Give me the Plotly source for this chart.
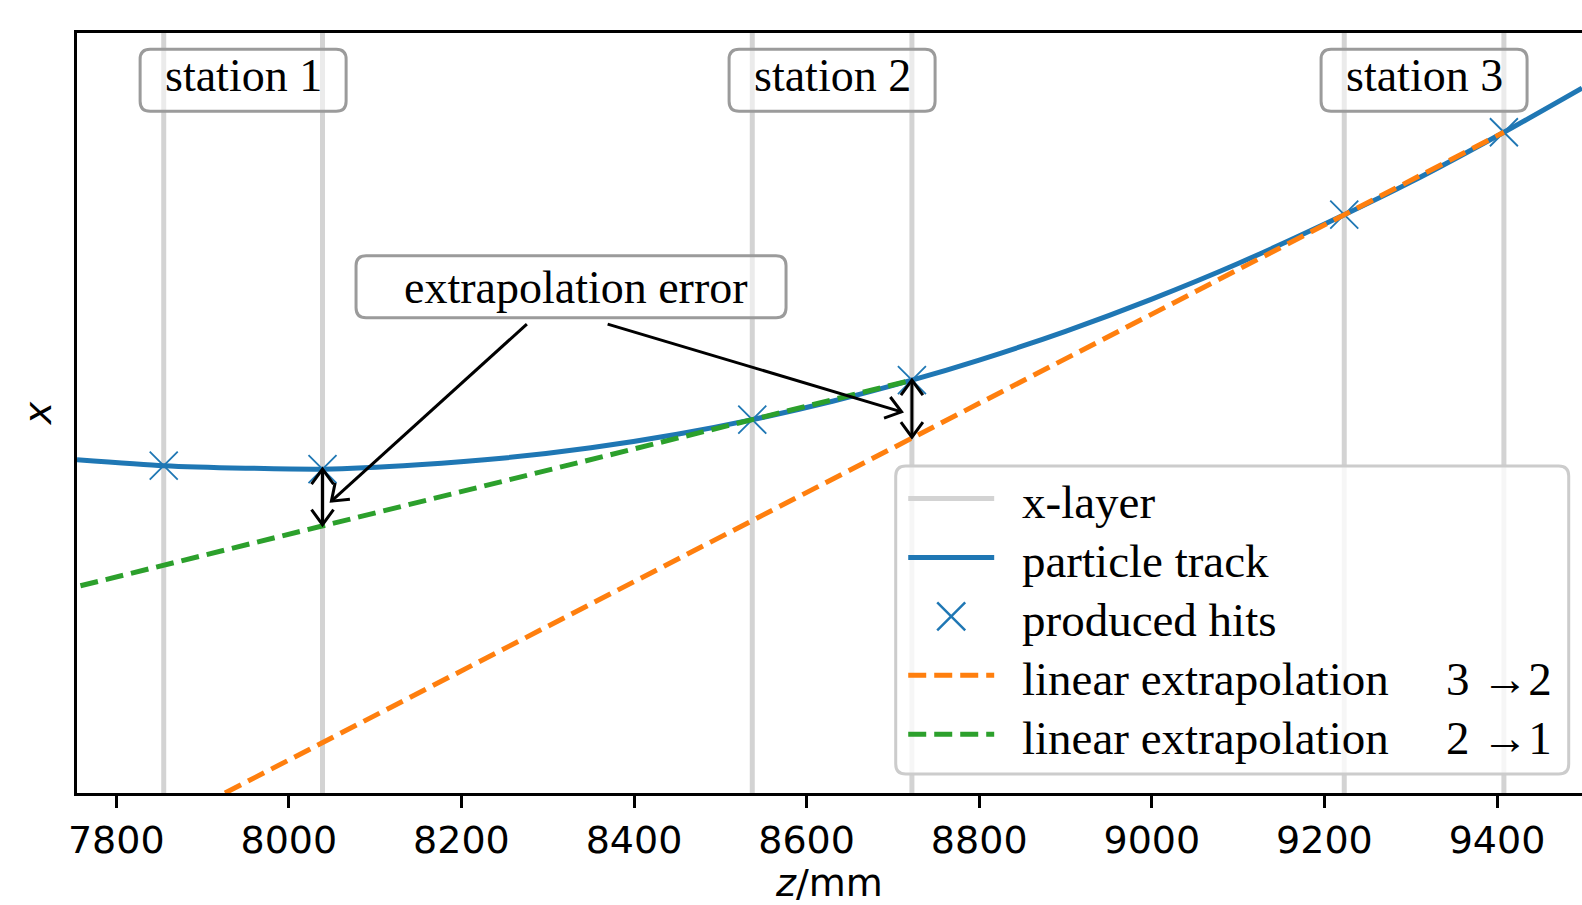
import math
import plotly.graph_objects as go

# ---------------- data ----------------
layer_z = [7855, 8039, 8537, 8722, 9223, 9408]          # x-layer positions (z/mm)

track_z = [7754.5, 7855, 7950, 8040, 8150, 8250, 8350, 8450, 8537, 8630,
           8722, 8800, 8900, 9000, 9100, 9223, 9300, 9408, 9498.5]
track_x = [333.5, 327.5, 325.0, 324.0, 328.4, 335.2, 345.4, 358.9, 373.5, 391.9,
           413.0, 433.1, 461.9, 494.1, 529.7, 578.5, 611.1, 661.0, 705.2]

hit_x = [327.5, 324.0, 373.5, 413.0, 578.5, 661.0]       # produced hits at layer_z

extrap32_z = [7926, 9408]
extrap32_x = [0.0, 661.0]
extrap21_z = [7700, 8722]
extrap21_x = [194.8, 413.0]

station_labels = ["station 1", "station 2", "station 3"]
station_label_x = 713.0

error_z = [8039, 8722]
error_top = [324.0, 413.0]
error_bottom = [268.5, 356.0]

callout_text = "extrapolation error"
callout_pos = (8327, 506.5)
callout_tips = [(8049.3, 292.0), (8710.0, 381.3)]
callout_tails = [(8275.8, 469.1), (8369.4, 469.1)]

legend_labels = ["x-layer", "particle track", "produced hits",
                 "linear extrapolation", "linear extrapolation"]
legend_suffix = ["", "", "", "3 \u21922", "2 \u21921"]

X_RANGE = [7754.5, 9498.5]
Y_RANGE = [0.0, 760.3]
x_ticks = [7800, 8000, 8200, 8400, 8600, 8800, 9000, 9200, 9400]
x_title = "<i>z</i>/mm"
y_title = "<i>x</i>"

# ---------------- styling ----------------
BLUE = "#1f77b4"
ORANGE = "#ff7f0e"
GREEN = "#2ca02c"
LAYER = "#d3d3d3"
SERIF = "Liberation Serif, Times New Roman, serif"
SANS = "DejaVu Sans, sans-serif"
W, H = 1582, 905
ML, MR, MT, MB = 76.5, 0, 32.7, 112
PW = W - ML - MR
PH = H - MT - MB
SX = PW / (X_RANGE[1] - X_RANGE[0])
SY = PH / (Y_RANGE[1] - Y_RANGE[0])
DASH = "18px,8px"


def px2paper(px, py):
    return (px - ML) / PW, (H - MB - py) / PH


fig = go.Figure()

lz, ly = [], []
for z in layer_z:
    lz += [z, z, None]
    ly += [Y_RANGE[0] - 20, Y_RANGE[1] + 20, None]
fig.add_trace(go.Scatter(x=lz, y=ly, mode="lines", name="x-layer",
                         line=dict(color=LAYER, width=5)))
fig.add_trace(go.Scatter(x=track_z, y=track_x, mode="lines", name="particle track",
                         line=dict(color=BLUE, width=5, shape="spline", smoothing=0.6)))
fig.add_trace(go.Scatter(x=layer_z, y=hit_x, mode="markers", name="produced hits",
                         marker=dict(symbol="x-thin", size=28,
                                     line=dict(color=BLUE, width=1.8), color=BLUE)))
fig.add_trace(go.Scatter(x=extrap32_z, y=extrap32_x, mode="lines",
                         name="linear extrapolation 3\u21922",
                         line=dict(color=ORANGE, width=5, dash=DASH)))
fig.add_trace(go.Scatter(x=extrap21_z, y=extrap21_x, mode="lines",
                         name="linear extrapolation 2\u21921",
                         line=dict(color=GREEN, width=5, dash=DASH)))


def rrect(w, h, r):
    a, b = w / 2, h / 2
    return (f"M{-a + r},{-b} L{a - r},{-b} Q{a},{-b} {a},{-b + r} "
            f"L{a},{b - r} Q{a},{b} {a - r},{b} L{-a + r},{b} Q{-a},{b} {-a},{b - r} "
            f"L{-a},{-b + r} Q{-a},{-b} {-a + r},{-b} Z")


shapes = []
annotations = []


def add_arrow(tip, tail, heads=("end",)):
    shapes.append(dict(type="line", xref="x", yref="y", x0=tail[0], y0=tail[1],
                       x1=tip[0], y1=tip[1], line=dict(color="black", width=3), layer="above"))
    L, hw = 15, 11
    for which in heads:
        p, q = (tip, tail) if which == "end" else (tail, tip)
        dx = (p[0] - q[0]) * SX
        dy = (p[1] - q[1]) * SY
        n = math.hypot(dx, dy)
        ux, uy = dx / n, dy / n
        ax1, ay1 = -L * ux - hw * uy, -L * uy + hw * ux
        ax2, ay2 = -L * ux + hw * uy, -L * uy - hw * ux
        shapes.append(dict(type="path", xref="x", yref="y", xsizemode="pixel", ysizemode="pixel",
                           xanchor=p[0], yanchor=p[1],
                           path=f"M{ax1:.2f},{ay1:.2f} L0,0 L{ax2:.2f},{ay2:.2f}",
                           fillcolor="rgba(0,0,0,0)", line=dict(color="black", width=3),
                           layer="above"))


# station labels
for i, lab in enumerate(station_labels):
    zc = (layer_z[2 * i] + layer_z[2 * i + 1]) / 2
    shapes.append(dict(type="path", xref="x", yref="y", xsizemode="pixel", ysizemode="pixel",
                       xanchor=zc, yanchor=station_label_x, path=rrect(206, 62, 10),
                       fillcolor="rgba(255,255,255,0.55)",
                       line=dict(color="rgba(155,155,155,1)", width=3), layer="above"))
    annotations.append(dict(x=zc, y=station_label_x, xref="x", yref="y", text=lab, yshift=5,
                            showarrow=False, font=dict(family=SERIF, size=46, color="black")))

# callout box + arrows
shapes.append(dict(type="path", xref="x", yref="y", xsizemode="pixel", ysizemode="pixel",
                   xanchor=callout_pos[0], yanchor=callout_pos[1], path=rrect(430, 62, 10),
                   fillcolor="rgba(255,255,255,0.55)",
                   line=dict(color="rgba(155,155,155,1)", width=3), layer="above"))
annotations.append(dict(x=callout_pos[0], y=callout_pos[1], xref="x", yref="y", xshift=5,
                        yshift=-1, text=callout_text, showarrow=False,
                        font=dict(family=SERIF, size=46, color="black")))
for tip, tail in zip(callout_tips, callout_tails):
    add_arrow(tip, tail)

for z, yt, yb in zip(error_z, error_top, error_bottom):
    add_arrow((z, yb), (z, yt), heads=("end", "start"))

# legend (drawn by hand to match the reference frame)
cx, cy = px2paper(1232.1, 620)
shapes.append(dict(type="path", xref="paper", yref="paper", xsizemode="pixel", ysizemode="pixel",
                   xanchor=cx, yanchor=cy, path=rrect(673, 308, 10),
                   fillcolor="rgba(255,255,255,0.8)",
                   line=dict(color="rgba(204,204,204,1)", width=3), layer="above"))
row_y0, row_dy = 498.3, 59.0
sample_styles = [dict(color=LAYER, width=5), dict(color=BLUE, width=5), None,
                 dict(color=ORANGE, width=5, dash=DASH), dict(color=GREEN, width=5, dash=DASH)]
for i, (lab, suf) in enumerate(zip(legend_labels, legend_suffix)):
    ry = row_y0 + row_dy * i
    st = sample_styles[i]
    if st is not None:
        x0, y0 = px2paper(908, ry)
        x1, _ = px2paper(994, ry)
        shapes.append(dict(type="line", xref="paper", yref="paper", x0=x0, x1=x1, y0=y0, y1=y0,
                           line=st, layer="above"))
    else:
        mx, my = px2paper(951, ry)
        shapes.append(dict(type="path", xref="paper", yref="paper", xsizemode="pixel",
                           ysizemode="pixel", xanchor=mx, yanchor=my,
                           path="M-14,-14 L14,14 M-14,14 L14,-14",
                           line=dict(color=BLUE, width=2.5), layer="above"))
    tx, ty = px2paper(1020, ry + 4)
    annotations.append(dict(x=tx, y=ty, xref="paper", yref="paper", text=lab, showarrow=False,
                            xanchor="left", yanchor="middle",
                            font=dict(family=SERIF, size=47, color="black")))
    if suf:
        sx_, _ = px2paper(1554, ry + 4)
        annotations.append(dict(x=sx_, y=ty, xref="paper", yref="paper", text=suf,
                                showarrow=False, xanchor="right", yanchor="middle",
                                font=dict(family=SERIF, size=47, color="black")))

# x-axis title placed as an annotation, kept just inside the bottom edge
xt_x, xt_y = px2paper(829, 883)
annotations.append(dict(x=xt_x, y=xt_y, xref="paper", yref="paper", text=x_title,
                        showarrow=False, xanchor="center", yanchor="middle",
                        font=dict(family=SANS, size=38, color="black")))

fig.update_layout(
    width=W, height=H,
    margin=dict(l=ML, r=MR, t=MT, b=MB, pad=0),
    plot_bgcolor="white", paper_bgcolor="white",
    shapes=shapes, annotations=annotations,
    showlegend=False,
    xaxis=dict(range=X_RANGE, tickvals=x_ticks, ticktext=[str(t) for t in x_ticks],
               showgrid=False, zeroline=False, showline=True, linecolor="black", linewidth=2.5,
               mirror=True, ticks="outside", ticklen=12, tickwidth=2.5, tickcolor="black",
               tickfont=dict(family=SANS, size=38, color="black")),
    yaxis=dict(range=Y_RANGE, showgrid=False, zeroline=False, showline=True, linecolor="black",
               linewidth=2.5, mirror=False, showticklabels=False, ticks="",
               title=dict(text=y_title, font=dict(family=SANS, size=38, color="black"),
                          standoff=11)),
)

fig.write_html("out.html", config={"displayModeBar": False},
               post_script="document.body.style.margin='0px';document.body.style.overflow='hidden';")
